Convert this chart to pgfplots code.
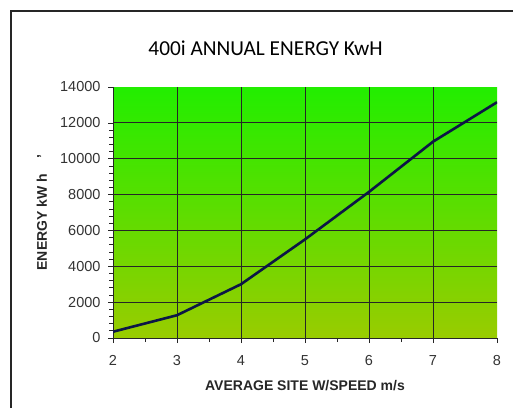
\documentclass[border=0pt]{standalone}
\usepackage{fontspec}
\setmainfont{Liberation Sans}
\newfontfamily\titlefont{Carlito}
\usepackage{pgfplots}
\pgfplotsset{compat=1.18}
\definecolor{topgreen}{RGB}{34,238,0}
\definecolor{botgreen}{RGB}{153,204,0}
\definecolor{linenavy}{RGB}{12,22,70}
\begin{document}
\begin{tikzpicture}[x=1pt,y=1pt]
\useasboundingbox (0,0) rectangle (513,408);
\draw[line width=1.2pt, black!85] (11,0) -- (11,397) -- (513,397);
\node[font=\titlefont\fontsize{21.3}{24}\selectfont, anchor=center] at (265.5,360) {400i ANNUAL ENERGY KwH};
\begin{axis}[
  at={(113pt,70pt)}, anchor=south west,
  scale only axis, width=384pt, height=251pt,
  xmin=2, xmax=8, ymin=0, ymax=14000,
  axis background/.style={shade, top color=topgreen, bottom color=botgreen},
  axis lines*=left,
  axis line style={black!85, line width=0.8pt},
  xtick={2,...,7},
  ytick={0,2000,...,12000},
  extra x ticks={8},
  extra y ticks={14000},
  extra tick style={grid=none},
  minor x tick num=1,
  minor y tick num=4,
  tick align=outside,
  major tick length=5pt,
  minor tick length=4pt,
  tick style={black!85, line width=0.7pt},
  grid=major,
  grid style={black!85, line width=0.8pt},
  scaled y ticks=false,
  /pgf/number format/fixed,
  /pgf/number format/1000 sep={},
  /pgf/number format/assume math mode=true,
  ticklabel style={font=\fontsize{14.5}{16}\selectfont, text=black!80},
  xticklabel style={yshift=-9pt},
  yticklabel style={xshift=-4pt},
  xlabel={AVERAGE SITE W/SPEED m/s},
  ylabel={ENERGY kW h\hspace{1.1em}'},
  label style={font=\bfseries\fontsize{14}{16}\selectfont, text=black!85},
  xlabel style={at={(axis description cs:0.5,-0.19)}, anchor=center},
  ylabel style={at={(axis description cs:-0.185,0.5)}, anchor=center},
]
\addplot[linenavy, line width=2.6pt, line join=round] coordinates {
(2,350) (3,1270) (4,3000) (5,5500) (6,8150) (7,10950) (8,13150)
};
\end{axis}
\end{tikzpicture}
\end{document}
